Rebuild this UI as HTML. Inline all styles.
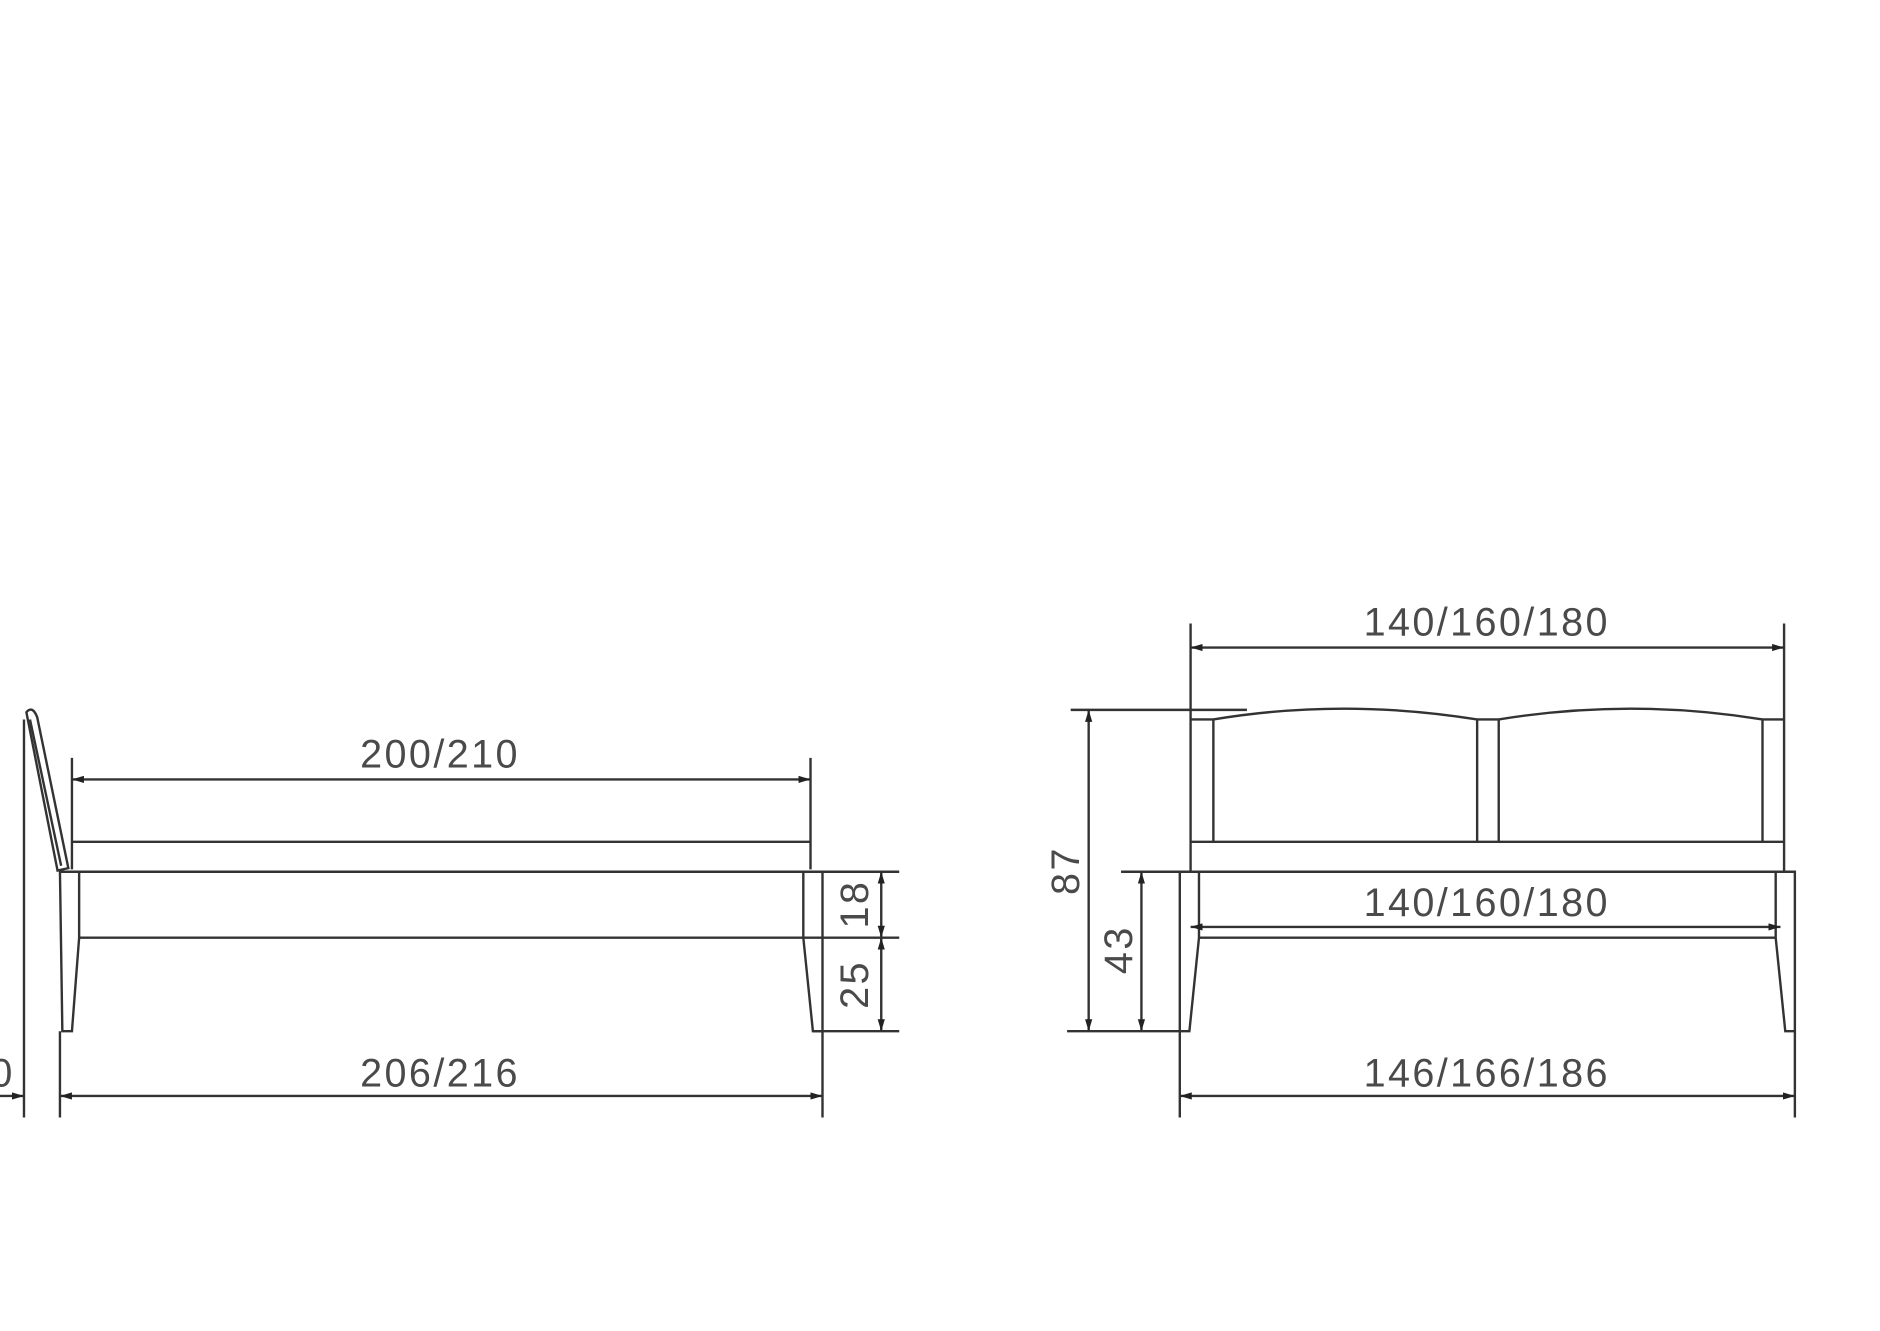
<!DOCTYPE html>
<html><head><meta charset="utf-8"><style>
html,body{margin:0;padding:0;background:#fff;width:1880px;height:1331px;overflow:hidden}
svg{display:block}
text{font-family:"Liberation Sans",sans-serif;fill:#4a4a4a;font-size:33px;letter-spacing:2px}
</style></head><body>
<svg width="1880" height="1331" viewBox="0 0 1568 1110" preserveAspectRatio="none" xmlns="http://www.w3.org/2000/svg">
<defs>
<marker id="a" viewBox="0 0 10 6" refX="10" refY="3" markerWidth="10" markerHeight="6" markerUnits="userSpaceOnUse" orient="auto-start-reverse"><path d="M0,0L10,3L0,6z" fill="#222"/></marker>
</defs>
<g stroke="#333" stroke-width="2" fill="none">
<!-- LEFT VIEW -->
<path d="M22,594 Q27,588 31,598 L57,724 L48,726 Z"/>
<path d="M25,600 L51,722"/>
<line x1="20" y1="600" x2="20" y2="932"/>
<line x1="60" y1="632" x2="60" y2="725"/>
<line x1="676" y1="632" x2="676" y2="725"/>
<line x1="60" y1="650" x2="676" y2="650" marker-start="url(#a)" marker-end="url(#a)"/>
<line x1="60" y1="702" x2="676" y2="702"/>
<line x1="50" y1="727" x2="750" y2="727"/>
<line x1="66" y1="782" x2="750" y2="782"/>
<path d="M50,727 L66,727 L66,782 L60,860 L52,860 Z"/>
<path d="M670,727 L686,727 L686,860 L678,860 L670,782 Z"/>
<line x1="678" y1="860" x2="750" y2="860"/>
<line x1="735" y1="727" x2="735" y2="782" marker-start="url(#a)" marker-end="url(#a)"/>
<line x1="735" y1="782" x2="735" y2="860" marker-start="url(#a)" marker-end="url(#a)"/>
<line x1="50" y1="860" x2="50" y2="932"/>
<line x1="686" y1="860" x2="686" y2="932"/>
<line x1="50" y1="914" x2="686" y2="914" marker-start="url(#a)" marker-end="url(#a)"/>
<line x1="0" y1="914" x2="20" y2="914" marker-end="url(#a)"/>
<!-- RIGHT VIEW -->
<line x1="993" y1="520" x2="993" y2="727"/>
<line x1="1488" y1="520" x2="1488" y2="727"/>
<line x1="993" y1="540" x2="1488" y2="540" marker-start="url(#a)" marker-end="url(#a)"/>
<line x1="893" y1="592" x2="1040" y2="592"/>
<path d="M993,600 L1012,600 Q1120,582 1232,600 L1250,600 Q1360,582 1470,600 L1488,600"/>
<line x1="1012" y1="600" x2="1012" y2="702"/>
<line x1="1232" y1="600" x2="1232" y2="702"/>
<line x1="1250" y1="600" x2="1250" y2="702"/>
<line x1="1470" y1="600" x2="1470" y2="702"/>
<line x1="993" y1="702" x2="1488" y2="702"/>
<line x1="935" y1="727" x2="1497" y2="727"/>
<path d="M984,727 L1000,727 L1000,782 L992,860 L984,860 Z"/>
<path d="M1481,727 L1497,727 L1497,860 L1489,860 L1481,782 Z"/>
<line x1="1000" y1="782" x2="1481" y2="782"/>
<line x1="993" y1="773" x2="1485" y2="773" marker-start="url(#a)" marker-end="url(#a)"/>
<line x1="890" y1="860" x2="984" y2="860"/>
<line x1="908" y1="592" x2="908" y2="860" marker-start="url(#a)" marker-end="url(#a)"/>
<line x1="952" y1="727" x2="952" y2="860" marker-start="url(#a)" marker-end="url(#a)"/>
<line x1="984" y1="860" x2="984" y2="932"/>
<line x1="1497" y1="860" x2="1497" y2="932"/>
<line x1="984" y1="914" x2="1497" y2="914" marker-start="url(#a)" marker-end="url(#a)"/>
</g>
<text x="367" y="640" text-anchor="middle">200/210</text>
<text x="367" y="906" text-anchor="middle">206/216</text>
<text x="-8" y="906">0</text>
<text transform="translate(724,754) rotate(-90)" text-anchor="middle">18</text>
<text transform="translate(724,821) rotate(-90)" text-anchor="middle">25</text>
<text x="1240" y="530" text-anchor="middle">140/160/180</text>
<text x="1240" y="764" text-anchor="middle">140/160/180</text>
<text x="1240" y="906" text-anchor="middle">146/166/186</text>
<text transform="translate(900,726) rotate(-90)" text-anchor="middle">87</text>
<text transform="translate(944,792) rotate(-90)" text-anchor="middle">43</text>
</svg>
</body></html>
